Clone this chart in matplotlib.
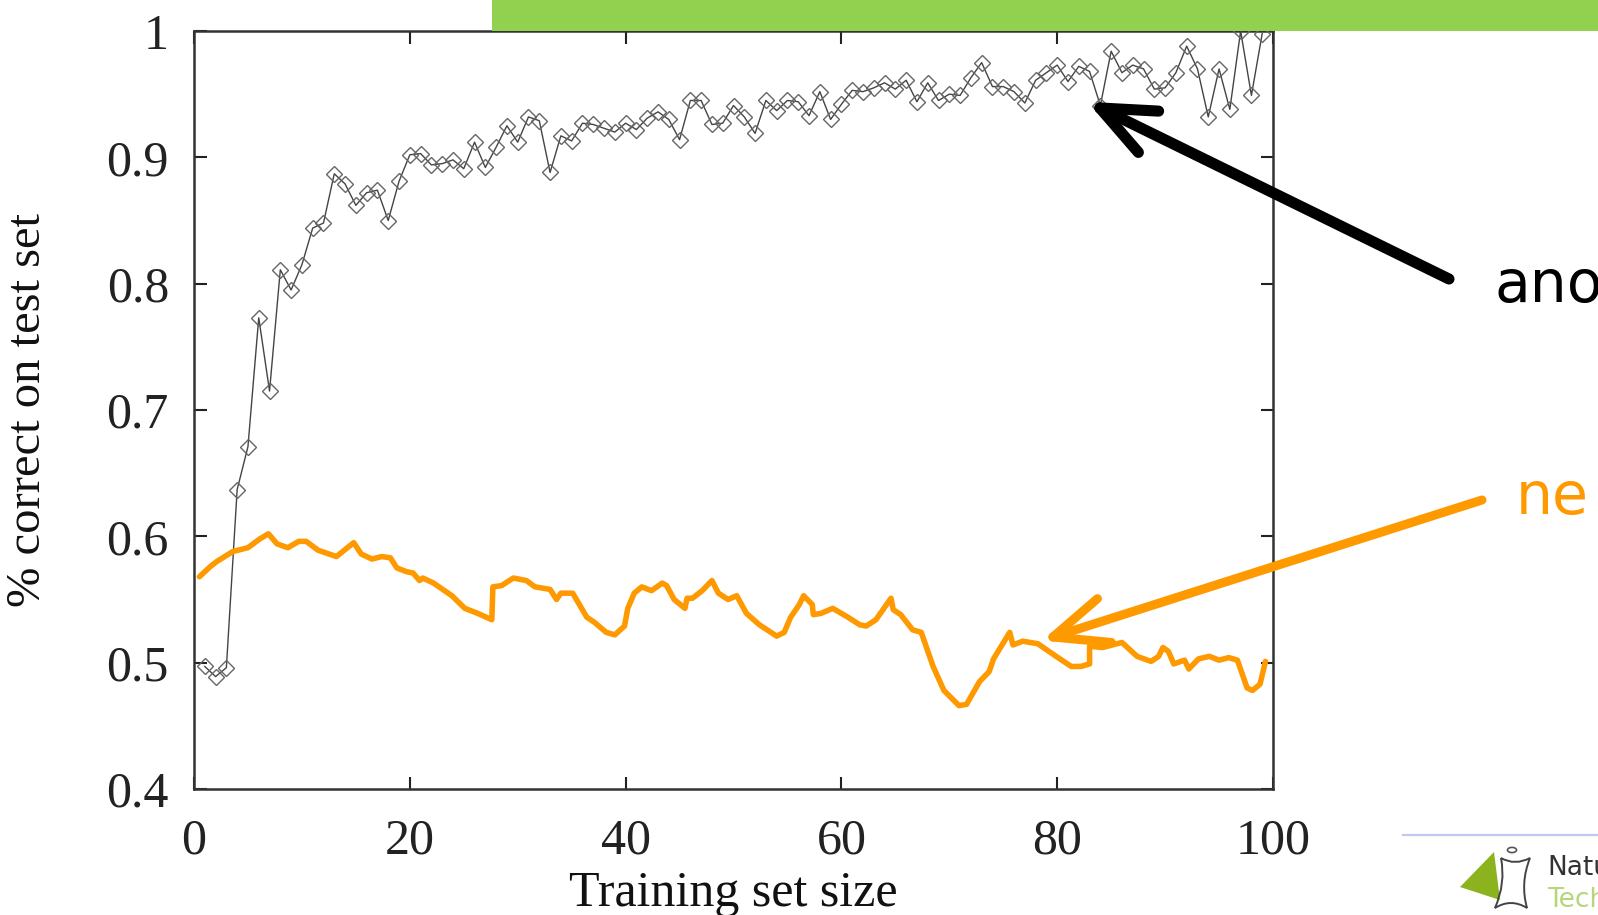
import numpy as np
import matplotlib
matplotlib.use("Agg")
import matplotlib.pyplot as plt
from matplotlib.lines import Line2D
from matplotlib.patches import Rectangle, Polygon, Circle, PathPatch
from matplotlib.path import Path

# --- data -------------------------------------------------------------------
train_size = list(range(1, 100))
acc_curve = [
    0.497, 0.489, 0.496, 0.637, 0.671, 0.773, 0.715, 0.811, 0.795, 0.815,
    0.844, 0.848, 0.887, 0.879, 0.862, 0.872, 0.874, 0.850, 0.881, 0.902,
    0.903, 0.894, 0.895, 0.898, 0.891, 0.912, 0.892, 0.908, 0.925, 0.912,
    0.932, 0.929, 0.888, 0.917, 0.913, 0.927, 0.926, 0.923, 0.920, 0.927,
    0.922, 0.931, 0.936, 0.930, 0.914, 0.945, 0.945, 0.926, 0.927, 0.941,
    0.932, 0.919, 0.945, 0.937, 0.945, 0.944, 0.933, 0.952, 0.930, 0.942,
    0.953, 0.952, 0.955, 0.959, 0.954, 0.961, 0.944, 0.959, 0.945, 0.950,
    0.949, 0.963, 0.975, 0.956, 0.956, 0.952, 0.943, 0.961, 0.967, 0.973,
    0.960, 0.972, 0.968, 0.941, 0.984, 0.967, 0.973, 0.970, 0.954, 0.955,
    0.967, 0.988, 0.970, 0.932, 0.970, 0.938, 1.000, 0.949, 0.998,
]

# orange overlay curve (hand drawn on the slide)
orange_x = [
    0.5, 1.5, 2.1, 3.6, 5.0, 6.1, 6.9, 7.7, 8.7, 9.7,
    10.4, 11.5, 13.2, 14.8, 15.5, 16.5, 17.4, 18.2, 18.8, 19.7,
    20.3, 20.9, 21.2, 22.2, 23.9, 25.1, 26.3, 27.6, 27.7, 28.5,
    29.6, 30.8, 31.6, 33.0, 33.6, 34.0, 35.1, 36.4, 37.1, 38.2,
    39.0, 39.9, 40.2, 40.8, 41.5, 42.4, 43.4, 43.8, 44.5, 45.5,
    45.7, 46.2, 47.1, 48.0, 48.6, 49.5, 50.3, 51.2, 52.4, 54.0,
    54.7, 55.3, 56.1, 56.5, 57.3, 57.4, 58.1, 59.2, 60.6, 61.7,
    62.3, 63.2, 64.6, 64.8, 65.5, 66.6, 67.4, 68.5, 69.5, 70.9,
    71.6, 72.8, 73.7, 74.1, 75.6, 75.9, 76.8, 78.2, 79.9, 81.3,
    82.2, 83.0, 83.0, 84.2, 86.0, 87.4, 88.7, 89.4, 89.8, 90.3,
    90.8, 91.8, 92.2, 93.1, 94.1, 95.0, 95.9, 96.7, 97.6, 98.1,
    98.8, 99.3,
]
orange_y = [
    0.568, 0.576, 0.580, 0.588, 0.591, 0.598, 0.602, 0.594, 0.591, 0.596,
    0.596, 0.589, 0.584, 0.595, 0.586, 0.582, 0.584, 0.583, 0.575, 0.572,
    0.571, 0.565, 0.567, 0.563, 0.553, 0.543, 0.539, 0.534, 0.560, 0.561,
    0.567, 0.565, 0.560, 0.558, 0.550, 0.555, 0.555, 0.536, 0.532, 0.524,
    0.522, 0.529, 0.543, 0.555, 0.560, 0.557, 0.563, 0.561, 0.550, 0.543,
    0.551, 0.551, 0.557, 0.565, 0.555, 0.550, 0.553, 0.539, 0.530, 0.521,
    0.524, 0.536, 0.546, 0.553, 0.546, 0.538, 0.539, 0.543, 0.536, 0.530,
    0.529, 0.534, 0.551, 0.542, 0.538, 0.526, 0.524, 0.497, 0.478, 0.466,
    0.467, 0.485, 0.493, 0.503, 0.524, 0.514, 0.517, 0.515, 0.505, 0.497,
    0.497, 0.499, 0.513, 0.512, 0.516, 0.505, 0.501, 0.505, 0.512, 0.509,
    0.499, 0.502, 0.495, 0.503, 0.505, 0.502, 0.504, 0.502, 0.480, 0.478,
    0.483, 0.501,
]

x_ticks = [0, 20, 40, 60, 80, 100]
y_ticks = [0.4, 0.5, 0.6, 0.7, 0.8, 0.9, 1.0]
y_tick_labels = ["0.4", "0.5", "0.6", "0.7", "0.8", "0.9", "1"]

W, H = 1598, 915
ORANGE = "#ff9900"
GREEN = "#92d050"


def fx(px):
    return px / W


def fy(py):
    return 1 - py / H


def chevron_arrow(fig, tail, tip, color, lw, head_len=54, head_half=23):
    """Thick line with an open chevron head, coords in slide pixels."""
    tail = np.array(tail, float)
    tip = np.array(tip, float)
    d = tail - tip
    d /= np.hypot(*d)
    n = np.array([-d[1], d[0]])
    arm1 = tip + d * head_len + n * head_half
    arm2 = tip + d * head_len - n * head_half
    for a, b in [(tail, tip), (arm1, tip), (arm2, tip)]:
        fig.add_artist(Line2D([fx(a[0]), fx(b[0])], [fy(a[1]), fy(b[1])],
                              transform=fig.transFigure, color=color, lw=lw,
                              solid_capstyle="round", solid_joinstyle="round",
                              zorder=10))


fig = plt.figure(figsize=(W / 100, H / 100), dpi=100)
ax = fig.add_axes([fx(194), fy(789), fx(1273) - fx(194), fy(31) - fy(789)])

ax.plot(train_size, acc_curve, color="#444444", lw=1.0, marker="D",
        markersize=8, markerfacecolor="none", markeredgecolor="#666666",
        markeredgewidth=1.0, zorder=3)
ax.plot(orange_x, orange_y, color=ORANGE, lw=4.0, solid_capstyle="round",
        solid_joinstyle="round", zorder=4)

ax.set_xlim(0, 100)
ax.set_ylim(0.4, 1.0)
ax.set_xticks(x_ticks)
ax.set_yticks(y_ticks)
ax.set_yticklabels(y_tick_labels)

serif = "Liberation Serif"
for lab in ax.get_xticklabels() + ax.get_yticklabels():
    lab.set_family(serif)
    lab.set_fontsize(36)
ax.tick_params(axis="both", direction="in", length=9, width=1.5,
               top=True, right=True, colors="#222222")
ax.tick_params(axis="x", pad=21)
ax.tick_params(axis="y", pad=18)
for sp in ax.spines.values():
    sp.set_linewidth(1.8)
    sp.set_color("#333333")

ax.set_xlabel("Training set size", family=serif, fontsize=36, color="#111111")
ax.set_ylabel("% correct on test set", family=serif, fontsize=35, color="#111111")
ax.xaxis.set_label_coords(0.5, -0.108)
ax.yaxis.set_label_coords(-0.133, 0.5)

# slide decorations
fig.add_artist(Rectangle((fx(492), fy(31)), 1 - fx(492), 31 / H,
                         transform=fig.transFigure, color=GREEN, lw=0, zorder=1))

chevron_arrow(fig, (1449, 279), (1100, 108), "black", 8)
chevron_arrow(fig, (1482, 500), (1053, 637), ORANGE, 6.5)

fig.text(fx(1495), fy(302), "ano", fontsize=42, family="DejaVu Sans",
         color="black", ha="left", va="baseline")
fig.text(fx(1516), fy(514), "ne", fontsize=42, family="DejaVu Sans",
         color=ORANGE, ha="left", va="baseline")

# footer rule and logo
fig.add_artist(Line2D([fx(1403), 1], [fy(835), fy(835)], transform=fig.transFigure,
                      color="#c4c4f4", lw=1.6))
fig.add_artist(Polygon([(fx(1460), fy(887)), (fx(1494), fy(852)), (fx(1500), fy(900))],
                       closed=True, transform=fig.transFigure, color="#8cb31e", lw=0))
fig.add_artist(Circle((fx(1512), fy(850)), 4.5 / W, transform=fig.transFigure,
                      fill=False, ec="#555555", lw=1.2))
c = [(1501, 858), (1530, 858), (1527, 908), (1495, 908)]
verts = [c[0], (1515, 866), c[1], (1520, 883), c[2], (1511, 898), c[3], (1506, 883), c[0]]
codes = [Path.MOVETO] + [Path.CURVE3] * 8
logo_path = Path([(fx(a), fy(b)) for a, b in verts], codes)
fig.add_artist(PathPatch(logo_path, transform=fig.transFigure, fill=False,
                         ec="#444444", lw=1.4))
fig.text(fx(1547), fy(875), "Natu", fontsize=19, family="DejaVu Sans",
         color="#333333", ha="left", va="baseline")
fig.text(fx(1547), fy(907), "Tech", fontsize=19, family="DejaVu Sans",
         color="#b5d77a", ha="left", va="baseline")

fig.savefig("out.png", dpi=100)
